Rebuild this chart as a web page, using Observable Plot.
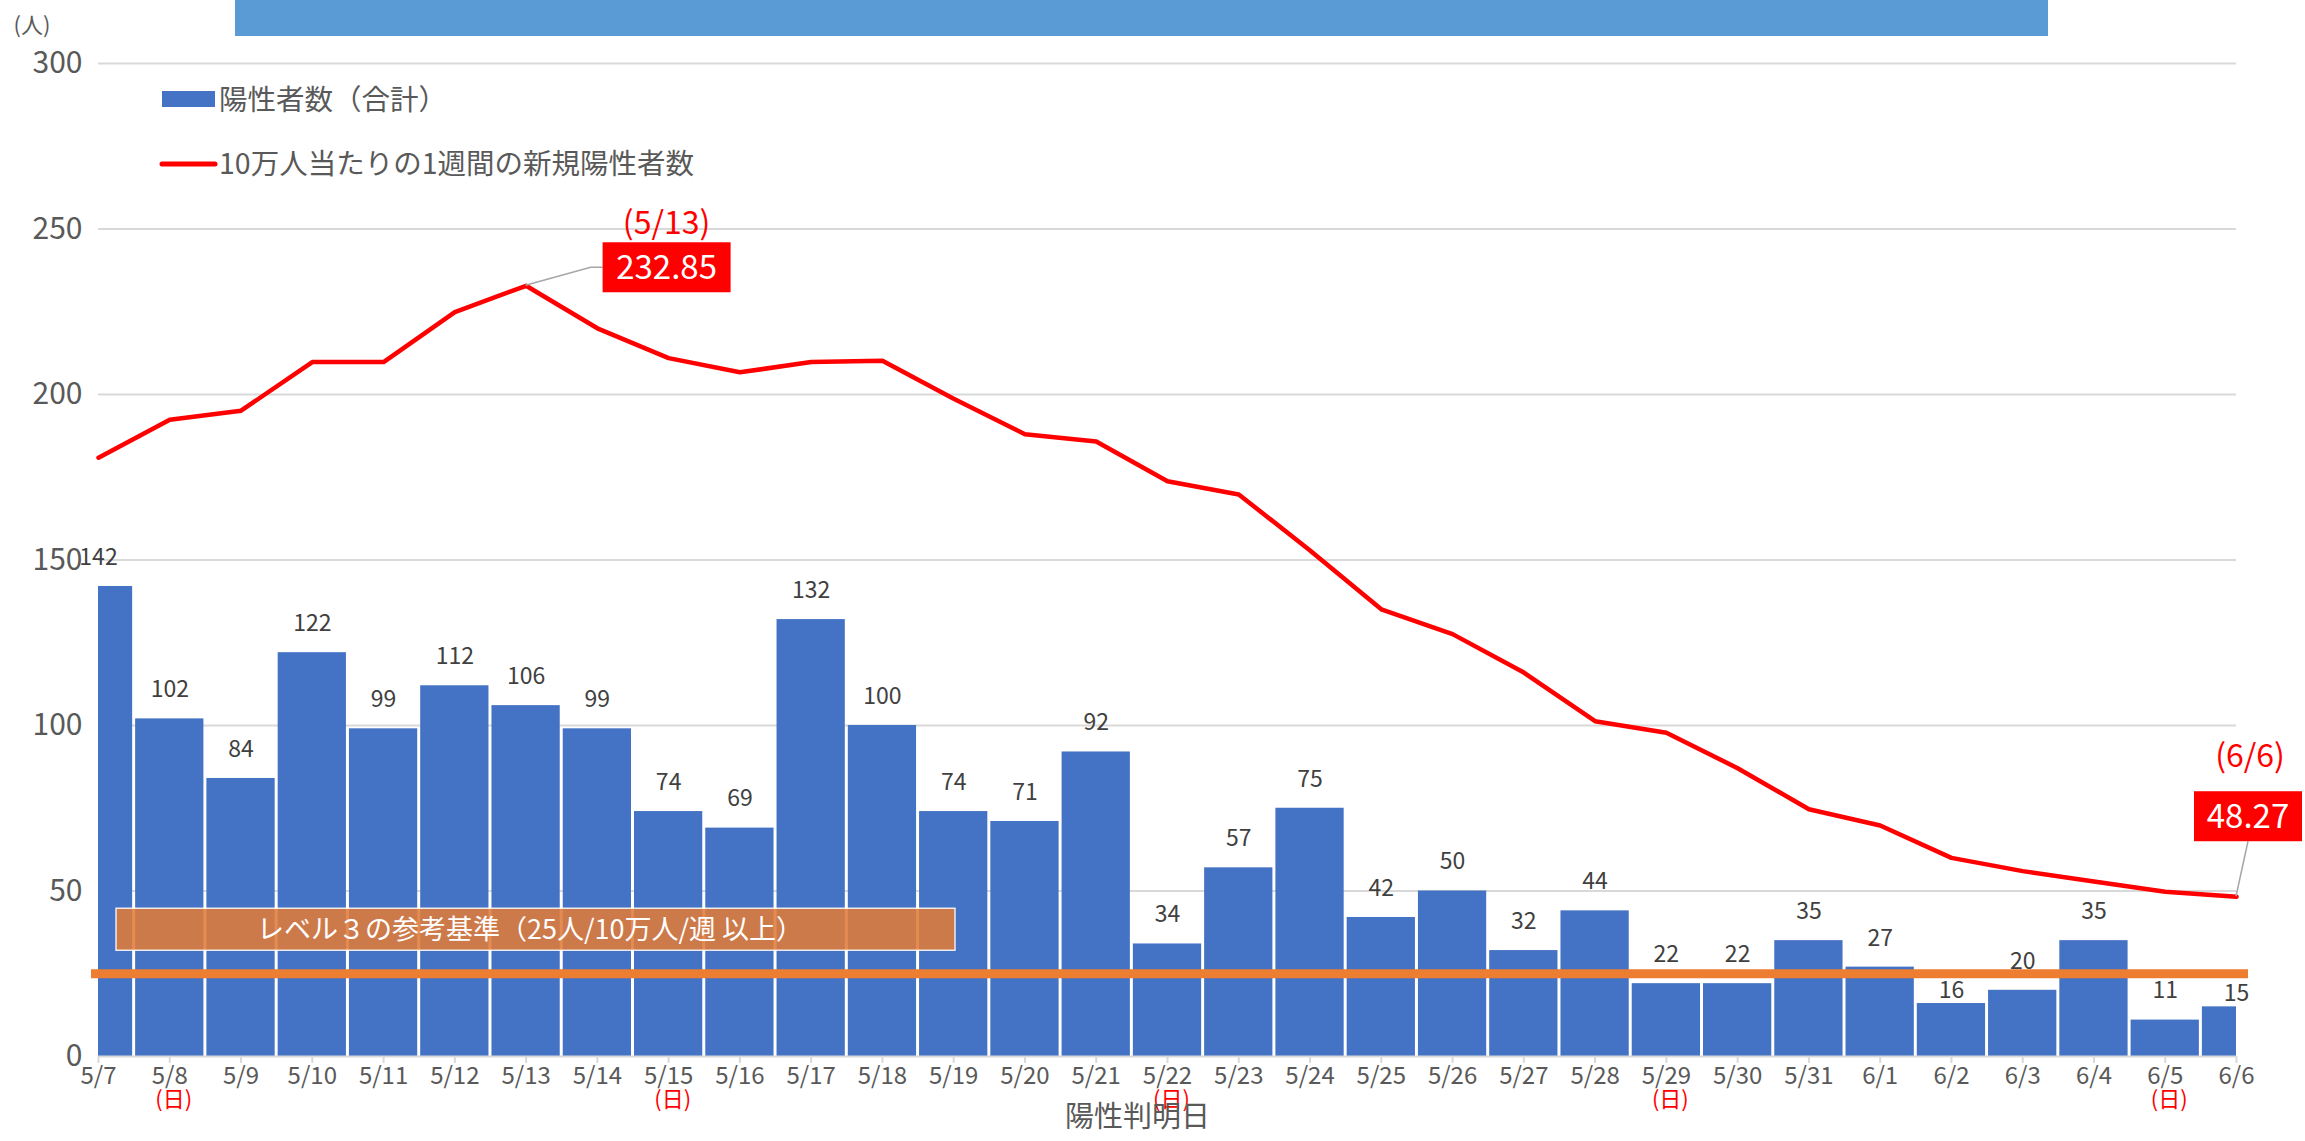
<!DOCTYPE html>
<html><head><meta charset="utf-8">
<script src="https://cdn.jsdelivr.net/npm/d3@7"></script>
<script src="https://cdn.jsdelivr.net/npm/@observablehq/plot@0.6"></script>
<style>
body{margin:0;background:#fff;}
#wrap{width:2305px;height:1141px;}
</style></head><body><div id="wrap"></div><script>
const dates = ["5/7","5/8","5/9","5/10","5/11","5/12","5/13","5/14","5/15","5/16","5/17","5/18","5/19","5/20","5/21","5/22","5/23","5/24","5/25","5/26","5/27","5/28","5/29","5/30","5/31","6/1","6/2","6/3","6/4","6/5","6/6"];
const positives = [142,102,84,122,99,112,106,99,74,69,132,100,74,71,92,34,57,75,42,50,32,44,22,22,35,27,16,20,35,11,15];
const weeklyPer100k = [180.9,192.4,195.1,209.8,209.8,224.9,232.85,220,211,206.7,209.8,210.2,198.7,188,185.8,173.8,169.8,152.9,135.1,127.6,116,101.3,97.8,87.1,74.7,69.8,60,56,52.9,49.8,48.27];
const sundays = ["5/8","5/15","5/22","5/29","6/5"];
const yTicks = [0,50,100,150,200,250,300];
const refLevel = 25;
const refLabel = "レベル３の参考基準（25人/10万人/週 以上）";
const legendLabels = ["陽性者数（合計）","10万人当たりの1週間の新規陽性者数"];
const xTitle = "陽性判明日";
const yUnit = "(人)";
const callouts = [{date:"5/13", value:232.85}, {date:"6/6", value:48.27}];

const FONT = '"Noto Sans CJK JP","Noto Sans",sans-serif';
const W = 2305, H = 1141, mL = 98, mR = 69, mT = 63, mB = 85;
const data = dates.map((d,i)=>({i, date:d, pos:positives[i], rate:weeklyPer100k[i]}));
const idx = d3.range(dates.length);

// labels that would sit on the reference line are tucked just above their bar instead
const pxPerUnit = (H - mT - mB) / 300;
const labelGap = 29;
const collides = d => Math.abs((d.pos - refLevel) * pxPerUnit + labelGap) < 12;

const plot = Plot.plot({
  width: W, height: H,
  marginLeft: mL, marginRight: mR, marginTop: mT, marginBottom: mB,
  style: {fontFamily: FONT, background: "white"},
  x: {type: "linear", domain: [0, dates.length - 1], axis: null, label: null},
  y: {domain: [0, 300], axis: null, label: null},
  marks: [
    Plot.gridY(yTicks.filter(t=>t>0), {stroke: "#d9d9d9", strokeOpacity: 1, strokeWidth: 2, label: null}),
    Plot.rectY(data, {x1: d=>d.i-0.5, x2: d=>d.i+0.5, y: "pos", fill: "#4472C4", insetLeft: 1.5, insetRight: 1.5, clip: true}),
    Plot.ruleY([0], {stroke: "#d9d9d9", strokeWidth: 2}),
    Plot.axisX(idx, {tickFormat: i=>dates[i], tickSize: 7, stroke: "#d9d9d9", strokeWidth: 2, fill: "#595959", fontSize: 24, tickPadding: 3, label: null}),
    Plot.axisY(yTicks, {tickSize: 0, tickPadding: 16, fontSize: 30, fill: "#595959", label: null}),
    Plot.text(data.filter(d=>sundays.includes(d.date)), {x: "i", text: ()=>"(日)", frameAnchor: "bottom", dy: 50, dx: 4, fill: "#ff0000", fontSize: 22}),
    Plot.text([xTitle], {text: d=>d, frameAnchor: "bottom", dy: 70, dx: -30, fontSize: 29, fill: "#595959"}),
    Plot.ruleY([refLevel], {stroke: "#ED7D31", strokeWidth: 9, insetLeft: -7, insetRight: -12}),
    Plot.text(data.filter(d=>!collides(d)), {x: "i", y: "pos", text: d=>String(d.pos), dy: -labelGap, fontSize: 23, fill: "#404040"}),
    Plot.text(data.filter(collides), {x: "i", y: "pos", text: d=>String(d.pos), dy: -13, fontSize: 23, fill: "#404040"}),
    Plot.line(data, {x: "i", y: "rate", stroke: "#ff0000", strokeWidth: 4.5})
  ]
});
document.getElementById("wrap").appendChild(plot);

const X = plot.scale("x"), Y = plot.scale("y");
const svg = d3.select(plot);
const g = svg.append("g").style("font-family", FONT).attr("text-anchor", "start");

// top band
g.append("rect").attr("x", 235).attr("y", 0).attr("width", 1813).attr("height", 36).attr("fill", "#5B9BD5");
// unit
g.append("text").attr("x", 32).attr("y", 25).attr("dy", "0.35em").attr("text-anchor", "middle").attr("font-size", 22).attr("fill", "#595959").text(yUnit);
// legend
g.append("rect").attr("x", 162).attr("y", 91).attr("width", 53).attr("height", 16).attr("fill", "#4472C4");
g.append("text").attr("x", 219).attr("y", 100).attr("dy", "0.35em").attr("text-anchor", "start").attr("font-size", 28.5).attr("fill", "#595959").text(legendLabels[0]);
g.append("line").attr("x1", 162).attr("x2", 215).attr("y1", 164).attr("y2", 164).attr("stroke", "#ff0000").attr("stroke-width", 5).attr("stroke-linecap", "round");
g.append("text").attr("x", 219).attr("y", 164).attr("dy", "0.35em").attr("text-anchor", "start").attr("font-size", 28.5).attr("fill", "#595959").text(legendLabels[1]);

// reference level label box (drawn above the bars, below the lines)
const ry = Y.apply(refLevel);
const refG = svg.append("g").style("font-family", FONT);
refG.append("rect").attr("x", 116).attr("y", ry - 65).attr("width", 839).attr("height", 42).attr("fill", "#E07B3A").attr("fill-opacity", 0.88).attr("stroke", "#ffffff").attr("stroke-opacity", 0.85).attr("stroke-width", 1.5);
refG.append("text").attr("x", 530).attr("y", ry - 44).attr("dy", "0.35em").attr("text-anchor", "middle").attr("font-size", 27).attr("fill", "#ffffff").text(refLabel);
svg.selectAll("[aria-label=line]").raise();
g.raise();

// callouts
const c0 = callouts[0];
{
  const px = X.apply(dates.indexOf(c0.date)), py = Y.apply(c0.value);
  g.append("path").attr("d", `M${px},${py}L${px+65},${py-18}L${px+77},${py-18}`).attr("fill", "none").attr("stroke", "#a6a6a6").attr("stroke-width", 1.5);
  g.append("rect").attr("x", px+77).attr("y", py-43).attr("width", 128).attr("height", 50).attr("fill", "#ff0000");
  g.append("text").attr("x", px+141).attr("y", py-18).attr("dy", "0.35em").attr("text-anchor", "middle").attr("font-size", 33).attr("fill", "#fff").text(c0.value.toFixed(2));
  g.append("text").attr("x", px+141).attr("y", py-62).attr("dy", "0.35em").attr("text-anchor", "middle").attr("font-size", 32).attr("fill", "#ff0000").text(`(${c0.date})`);
}
const c1 = callouts[1];
{
  const px = X.apply(dates.indexOf(c1.date)), py = Y.apply(c1.value);
  g.append("path").attr("d", `M${px},${py}L${px+12},${py-55}`).attr("fill", "none").attr("stroke", "#a6a6a6").attr("stroke-width", 1.5);
  g.append("rect").attr("x", px-42).attr("y", py-105).attr("width", 108).attr("height", 50).attr("fill", "#ff0000");
  g.append("text").attr("x", px+12).attr("y", py-80).attr("dy", "0.35em").attr("text-anchor", "middle").attr("font-size", 33).attr("fill", "#fff").text(c1.value.toFixed(2));
  g.append("text").attr("x", px+14).attr("y", py-140).attr("dy", "0.35em").attr("text-anchor", "middle").attr("font-size", 32).attr("fill", "#ff0000").text(`(${c1.date})`);
}
</script></body></html>
